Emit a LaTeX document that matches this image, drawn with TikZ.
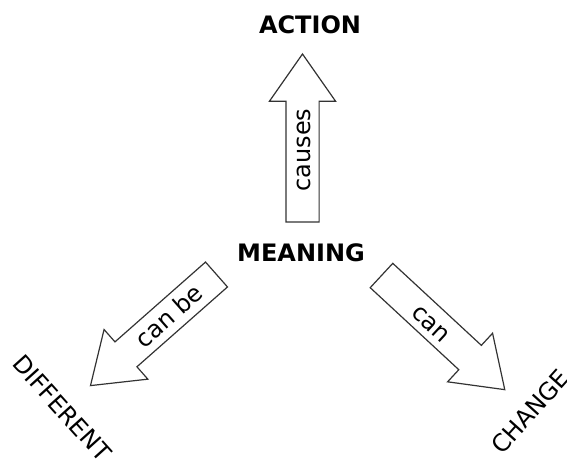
\documentclass[tikz,border=0pt]{standalone}
\usepackage{fontspec}
\setmainfont{DejaVu Sans}
\usetikzlibrary{shapes.arrows}

\begin{document}
\begin{tikzpicture}[x=0.5pt,y=0.5pt,
    word/.style={font=\fontsize{12}{14}\selectfont, inner sep=0pt},
    key/.style={word, font=\fontsize{12}{14}\selectfont\bfseries},
    blockarrow/.style={single arrow, draw=black!80, line width=0.6pt,
      minimum height=84pt, inner sep=0pt, inner ysep=8pt, outer sep=0pt,
      single arrow head extend=8.25pt, single arrow tip angle=70,
      anchor=tail}]
  \useasboundingbox (0,0) rectangle (567,468);

  % the four concepts
  \node[key] (meaning) at (301,215.5) {MEANING};
  \node[key] (action) at (310,443) {ACTION};
  \node[word, rotate=-48] (different) at (62,60) {DIFFERENT};
  \node[word, rotate=48] (change) at (530,56.5) {CHANGE};

  % block arrows going out of MEANING, placed by their tails
  \node[blockarrow, rotate=90] (toaction) at (302.5,246) {};
  \node[blockarrow, rotate=221.4] (todifferent) at (216.5,193.5) {};
  \node[blockarrow, rotate=-42.8] (tochange) at (381.5,192.5) {};

  % words along the arrows
  \node[word, rotate=90] (causes) at (303.5,318) {causes};
  \node[word, rotate=41.4] (canbe) at (168.5,152) {can be};
  \node[word, rotate=-42.8] (can) at (430.5,144) {can};
\end{tikzpicture}
\end{document}
